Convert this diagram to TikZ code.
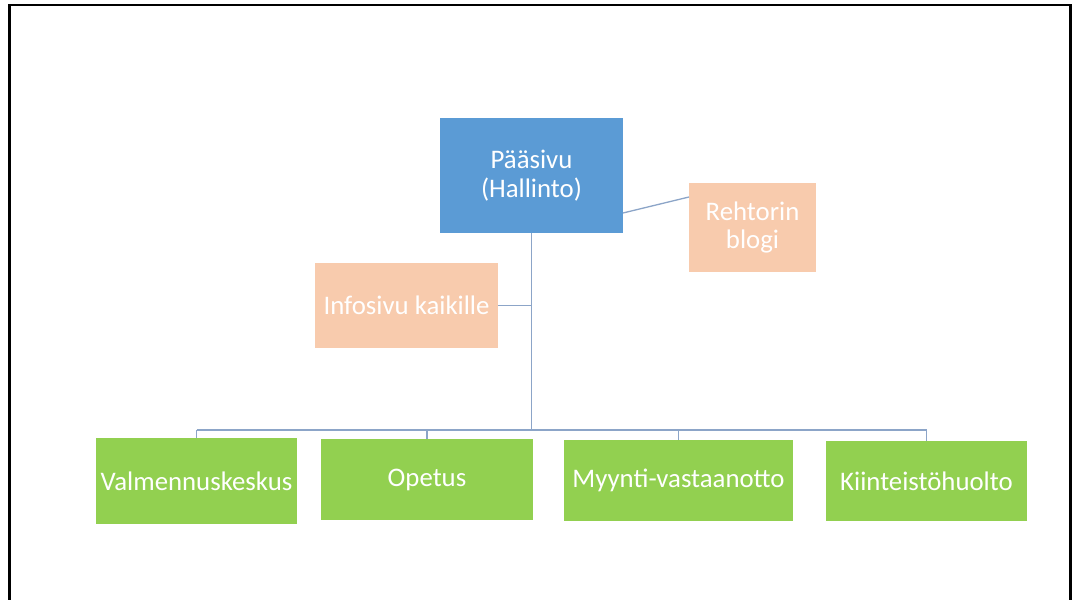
\documentclass[tikz,border=0pt]{standalone}
\usepackage{fontspec}
\setmainfont{Carlito}
\definecolor{mainblue}{HTML}{5B9BD5}
\definecolor{peach}{HTML}{F8CBAD}
\definecolor{leaf}{HTML}{92D050}
\definecolor{conn}{HTML}{8CA5C8}
\tikzset{
  box/.style={rectangle, inner sep=0pt, outer sep=0pt, align=center, text=white,
    font=\fontsize{26.8bp}{28.5bp}\selectfont},
  topbox/.style={box, fill=mainblue},
  sidebox/.style={box, fill=peach},
  unitbox/.style={box, fill=leaf},
  link/.style={draw=conn, line width=1.3bp},
  frameline/.style={draw=black, line width=2.6bp}
}
\begin{document}
\begin{tikzpicture}[x=1bp, y=-1bp]
\useasboundingbox (0,0) rectangle (1075,600);
\fill[white] (0,0) rectangle (1075,600);
\draw[frameline] (9.5,600) -- (9.5,5) -- (1070.5,5) -- (1070.5,600);

\node[topbox, minimum width=183bp, minimum height=115bp] (main) at (531.5,175.5) {Pääsivu\\(Hallinto)};
\node[sidebox, minimum width=127bp, minimum height=89bp] (rehtor) at (752.5,227.5) {Rehtorin\\blogi};
\node[sidebox, minimum width=183bp, minimum height=85bp] (info) at (406.5,305.5) {Infosivu kaikille};

\node[unitbox, minimum width=201bp, minimum height=86bp] (valm) at (196.5,481) {Valmennuskeskus};
\node[unitbox, minimum width=212bp, minimum height=81bp] (opetus) at (427,479.5) {Opetus};
\node[unitbox, minimum width=229bp, minimum height=81bp] (myynti) at (678.5,480.5) {Myynti-vastaanotto};
\node[unitbox, minimum width=201bp, minimum height=80bp] (kiint) at (926.5,481) {Kiinteistöhuolto};

\coordinate (bus) at (531.5,430);

\draw[link] (main.south) -- (main.south |- bus);
\draw[link] (valm.north |- bus) -- (kiint.north |- bus);
\draw[link] (valm.north) -- (valm.north |- bus);
\draw[link] (opetus.north) -- (opetus.north |- bus);
\draw[link] (myynti.north) -- (myynti.north |- bus);
\draw[link] (kiint.north) -- (kiint.north |- bus);
\draw[link] (info.east) -- (info.east -| main.south);
\draw[link] ([yshift=20bp]main.south east) -- ([yshift=30.5bp]rehtor.west);
\end{tikzpicture}
\end{document}
